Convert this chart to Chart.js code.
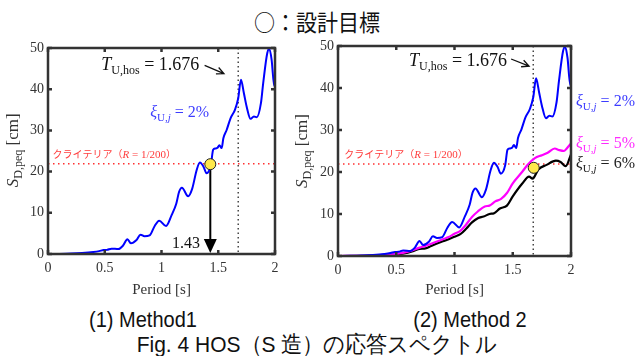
<!DOCTYPE html>
<html>
<head>
<meta charset="utf-8">
<script src="https://cdn.jsdelivr.net/npm/chart.js@4"></script>
<style>
  body { margin: 0; background: #fff; width: 636px; height: 356px; position: relative; overflow: hidden; }
  canvas { position: absolute; }
  .lbl { position: absolute; white-space: nowrap; transform: translate(-50%, -50%) scaleY(1.08); color: #111; }
  .sans { font-family: 'Liberation Sans', Arial, sans-serif; font-size: 20px; }
  .cjk { font-family: 'Noto Sans CJK JP', sans-serif; font-size: 21px; }
</style>
</head>
<body>
<div class="lbl cjk" style="left:317px; top:21px;">○：設計目標</div>
<canvas id="left" width="288" height="275" style="left:0; top:30px;"></canvas>
<canvas id="right" width="348" height="275" style="left:288px; top:30px;"></canvas>
<div class="lbl sans" style="left:143px; top:320px;">(1) Method1</div>
<div class="lbl sans" style="left:470px; top:320px;">(2) Method 2</div>
<div class="lbl sans" style="left:317px; top:344px; font-size:21px;">Fig. 4 HOS（S 造）の応答スペクトル</div>
<script>
// === data ===
const xTicks = [0, 0.5, 1, 1.5, 2];
const yTicks = [0, 10, 20, 30, 40, 50];

// damping 2%
const periods2 = [0, 0.1, 0.2, 0.3, 0.4, 0.45, 0.49, 0.52, 0.56, 0.62, 0.66, 0.70, 0.73, 0.78, 0.815, 0.85, 0.895, 0.94, 0.98, 1.04, 1.09, 1.13, 1.155, 1.18, 1.235, 1.27, 1.31, 1.338, 1.37, 1.397, 1.435, 1.455, 1.475, 1.494, 1.51, 1.53, 1.545, 1.574, 1.609, 1.647, 1.676, 1.70, 1.726, 1.75, 1.785, 1.814, 1.84, 1.876, 1.896, 1.932, 1.95, 1.97, 1.994, 2.0];
const sd2 = [0, 0.03, 0.1, 0.25, 0.5, 0.7, 0.95, 1.0, 1.3, 1.2, 2.0, 3.6, 2.6, 3.4, 4.7, 4.3, 4.5, 6.8, 8.1, 6.8, 9.5, 12.2, 15.1, 16.1, 14.0, 15.8, 20.4, 22.2, 21.2, 19.6, 21.6, 25.3, 25.6, 25.8, 26.4, 25.7, 28.1, 30.1, 33.0, 35.0, 37.8, 42.3, 39.0, 35.8, 32.8, 33.4, 33.2, 36.6, 41.5, 48.8, 49.8, 47.2, 40.7, 41.5];

// damping 5%
const periods5 = [0, 0.2, 0.4, 0.5, 0.6, 0.7, 0.75, 0.8, 0.9, 0.95, 1.0, 1.05, 1.1, 1.15, 1.2, 1.26, 1.3, 1.35, 1.4, 1.45, 1.5, 1.58, 1.63, 1.69, 1.75, 1.8, 1.86, 1.9, 1.94, 1.96, 2.0];
const sd5 = [0, 0.05, 0.3, 0.5, 1.0, 2.0, 2.4, 2.9, 4.0, 4.5, 5.3, 6.0, 7.5, 9.3, 10.6, 11.8, 12.0, 13.0, 13.6, 15.0, 17.3, 20.0, 21.8, 23.3, 24.0, 24.6, 25.6, 25.2, 25.0, 25.5, 26.8];

// damping 6%
const periods6 = [0, 0.2, 0.4, 0.5, 0.6, 0.65, 0.7, 0.75, 0.8, 0.9, 0.95, 1.0, 1.05, 1.1, 1.15, 1.2, 1.25, 1.3, 1.34, 1.39, 1.45, 1.5, 1.58, 1.64, 1.67, 1.72, 1.79, 1.87, 1.91, 1.955, 2.0];
const sd6 = [0, 0.03, 0.25, 0.4, 0.8, 1.2, 1.7, 1.8, 2.4, 3.5, 4.0, 4.6, 5.2, 6.5, 8.0, 9.0, 9.4, 10.0, 10.2, 11.3, 12.0, 14.2, 17.2, 18.9, 18.4, 20.6, 21.7, 22.7, 22.4, 21.4, 24.2];

const criteria = 21.9;   // R = 1/200
const tHos = 1.676;
const target1 = [1.43, 21.8];
const target2 = [1.68, 21.0];

const xy = (xs, ys) => xs.map((x, i) => ({ x: x, y: ys[i] }));

const SERIF = "'Liberation Serif', 'Times New Roman', serif";
const CJK = "'Noto Sans CJK JP', sans-serif";
const AXIS = '#333';

// draw a run of text pieces: [text, font, dy]
function rich(ctx, x, y, segs, color, align) {
  let w = 0;
  segs.forEach(s => { ctx.font = s[1]; w += ctx.measureText(s[0]).width; });
  let cx = align === 'right' ? x - w : x;
  ctx.fillStyle = color;
  ctx.textAlign = 'left';
  ctx.textBaseline = 'alphabetic';
  segs.forEach(s => {
    ctx.font = s[1];
    ctx.fillText(s[0], cx, y + (s[2] || 0));
    cx += ctx.measureText(s[0]).width;
  });
}

function arrowLine(ctx, x1, y1, x2, y2) {
  const a = Math.atan2(y2 - y1, x2 - x1);
  ctx.beginPath();
  ctx.moveTo(x1, y1); ctx.lineTo(x2, y2);
  ctx.moveTo(x2 - 8 * Math.cos(a - 0.45), y2 - 8 * Math.sin(a - 0.45));
  ctx.lineTo(x2, y2);
  ctx.lineTo(x2 - 8 * Math.cos(a + 0.45), y2 - 8 * Math.sin(a + 0.45));
  ctx.stroke();
}

const xiLabel = (pct) => [
  ['ξ', 'italic 16px ' + SERIF, 0],
  ['U,', '11px ' + SERIF, 4],
  ['j', 'italic 11px ' + SERIF, 4],
  [' = ' + pct + '%', '16px ' + SERIF, 0]
];

const overlay = {
  id: 'overlay',
  beforeDatasetsDraw(chart, args, o) {
    const ctx = chart.ctx, a = chart.chartArea;
    const xs = chart.scales.x, ys = chart.scales.y;
    ctx.save();
    // criteria line
    ctx.strokeStyle = '#ff3030';
    ctx.lineWidth = 1.5;
    ctx.setLineDash([1.5, 3.5]);
    ctx.beginPath();
    ctx.moveTo(a.left, ys.getPixelForValue(criteria));
    ctx.lineTo(a.right, ys.getPixelForValue(criteria));
    ctx.stroke();
    // T_U,hos line
    ctx.strokeStyle = '#444';
    ctx.setLineDash([1.5, 3]);
    ctx.beginPath();
    ctx.moveTo(xs.getPixelForValue(tHos), a.top);
    ctx.lineTo(xs.getPixelForValue(tHos), a.bottom);
    ctx.stroke();
    ctx.setLineDash([]);
    // arrow from the target down to the axis
    if (o.drop) {
      const px = xs.getPixelForValue(o.drop[0]);
      const py = ys.getPixelForValue(o.drop[1]);
      const by = ys.getPixelForValue(0);
      ctx.strokeStyle = '#000';
      ctx.lineWidth = 2;
      ctx.beginPath();
      ctx.moveTo(px, py); ctx.lineTo(px, by - 10);
      ctx.stroke();
      ctx.fillStyle = '#000';
      ctx.beginPath();
      ctx.moveTo(px - 6.5, by - 15); ctx.lineTo(px + 6.5, by - 15); ctx.lineTo(px, by - 1);
      ctx.closePath(); ctx.fill();
      rich(ctx, xs.getPixelForValue(1.34), ys.getPixelForValue(1.45), [[String(o.drop[0]), '16px ' + SERIF]], '#111', 'right');
    }
    // criteria text
    const cx = xs.getPixelForValue(o.crit[0]), cy = ys.getPixelForValue(o.crit[1]);
    rich(ctx, cx, cy, [
      ['クライテリア（', '10px ' + CJK, 0],
      ['R', 'italic 11px ' + SERIF, 0],
      [' = 1/200', '11px ' + SERIF, 0],
      ['）', '10px ' + CJK, 0]
    ], '#ff3b3b');
    ctx.restore();
  },
  afterDatasetsDraw(chart, args, o) {
    const ctx = chart.ctx, a = chart.chartArea;
    const xs = chart.scales.x, ys = chart.scales.y;
    ctx.save();
    // frame and inner ticks
    ctx.strokeStyle = AXIS;
    ctx.lineWidth = 2.5;
    ctx.strokeRect(a.left, a.top, a.right - a.left, a.bottom - a.top);
    ctx.beginPath();
    xTicks.forEach(v => {
      const p = xs.getPixelForValue(v);
      ctx.moveTo(p, a.bottom); ctx.lineTo(p, a.bottom - 4);
      ctx.moveTo(p, a.top); ctx.lineTo(p, a.top + 4);
    });
    yTicks.forEach(v => {
      const p = ys.getPixelForValue(v);
      ctx.moveTo(a.left, p); ctx.lineTo(a.left + 4, p);
      ctx.moveTo(a.right, p); ctx.lineTo(a.right - 4, p);
    });
    ctx.stroke();

    // T_U,hos label + arrow
    const t = o.tLabel;
    rich(ctx, xs.getPixelForValue(t[0]), ys.getPixelForValue(t[1]), [
      ['T', 'italic 18px ' + SERIF, 0],
      ['U,hos', '12px ' + SERIF, 4],
      [' = 1.676', '18px ' + SERIF, 0]
    ], '#111');
    ctx.strokeStyle = '#111';
    ctx.lineWidth = 1.3;
    arrowLine(ctx, xs.getPixelForValue(t[2]), ys.getPixelForValue(t[3]),
      xs.getPixelForValue(t[4]), ys.getPixelForValue(t[5]));

    // damping labels
    o.xi.forEach(l => {
      rich(ctx, l.px != null ? l.px : xs.getPixelForValue(l.x), ys.getPixelForValue(l.y), xiLabel(l.pct), l.color);
    });

    // axis titles
    ctx.textAlign = 'center';
    ctx.textBaseline = 'middle';
    ctx.fillStyle = '#333';
    ctx.font = '15px ' + SERIF;
    ctx.fillText('Period [s]', (a.left + a.right) / 2, 260);
    ctx.translate(o.yTitleX, ys.getPixelForValue(16.2));
    ctx.rotate(-Math.PI / 2);
    rich(ctx, 0, 0, [
      ['S', 'italic 17px ' + SERIF, 0],
      ['D,peq', '12px ' + SERIF, 4],
      [' [cm]', '17px ' + SERIF, 0]
    ], '#333');
    ctx.restore();
  }
};

function makeChart(id, datasets, dims, extra) {
  return new Chart(document.getElementById(id), {
    type: 'line',
    data: { datasets: datasets },
    plugins: [overlay],
    options: {
      responsive: false,
      animation: false,
      devicePixelRatio: 1,
      layout: { padding: { left: 0, top: dims.top, right: dims.right, bottom: 0 } },
      plugins: { legend: { display: false }, tooltip: { enabled: false }, overlay: extra },
      scales: {
        x: {
          type: 'linear', min: 0, max: 2,
          grid: { display: false, drawTicks: false },
          border: { display: false },
          afterBuildTicks: s => { s.ticks = xTicks.map(v => ({ value: v })); },
          afterFit: s => { s.height = dims.xh; },
          ticks: { font: { family: SERIF, size: 14 }, color: AXIS, padding: 6, maxRotation: 0, callback: v => String(v) }
        },
        y: {
          type: 'linear', min: 0, max: 50,
          grid: { display: false, drawTicks: false },
          border: { display: false },
          afterBuildTicks: s => { s.ticks = yTicks.map(v => ({ value: v })); },
          afterFit: s => { s.width = dims.yw; },
          ticks: { font: { family: SERIF, size: 14 }, color: AXIS, padding: 4, callback: v => String(v) }
        }
      }
    }
  });
}

const line = (data, color, w) => ({
  data: data, borderColor: color, borderWidth: w, pointRadius: 0,
  cubicInterpolationMode: 'monotone', fill: false
});
const dot = (p) => ({
  data: [{ x: p[0], y: p[1] }], showLine: false, order: -1,
  pointRadius: 5.5, pointBackgroundColor: '#ffe84a', pointBorderColor: '#222', pointBorderWidth: 1
});

makeChart('left', [
  dot(target1),
  line(xy(periods2, sd2), '#0000ff', 2)
], { top: 18, right: 13, xh: 51, yw: 48 }, {
  drop: target1,
  crit: [0.04, 23.4],
  tLabel: [0.47, 44.6, 1.38, 45.8, 1.55, 43.8],
  xi: [{ x: 0.9, y: 33.2, pct: 2, color: '#3c3cff' }],
  yTitleX: 18
});

makeChart('right', [
  dot(target2),
  line(xy(periods2, sd2), '#0000ff', 2),
  line(xy(periods5, sd5), '#ff00ff', 2.2),
  line(xy(periods6, sd6), '#000000', 2.2)
], { top: 16, right: 65, xh: 49, yw: 50 }, {
  crit: [0.054, 23.3],
  tLabel: [0.61, 45.2, 1.486, 46.9, 1.64, 45.2],
  xi: [
    { px: 288, y: 35.6, pct: 2, color: '#3c3cff' },
    { px: 288, y: 25.6, pct: 5, color: '#ff2bff' },
    { px: 288, y: 20.9, pct: 6, color: '#222' }
  ],
  yTitleX: 19
});
</script>
</body>
</html>
